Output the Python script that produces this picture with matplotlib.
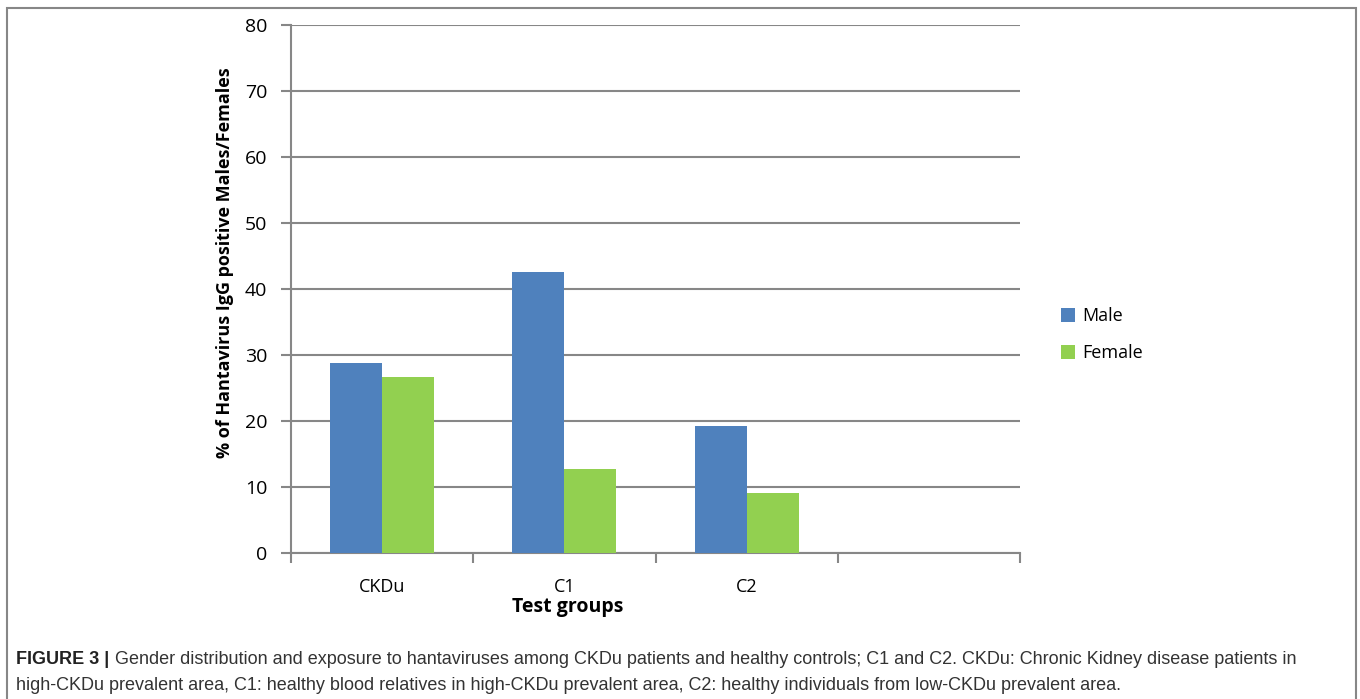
import matplotlib
matplotlib.use('Agg')
from matplotlib import pyplot as plt
from matplotlib.patches import Rectangle
import numpy as np

groups = ['CKDu', 'C1', 'C2', '']
male = [28.8, 42.6, 19.2]
female = [26.7, 12.7, 9.1]

blue = '#4f81bd'
green = '#92d050'
gray = '#878787'

fig = plt.figure(figsize=(13.6, 6.99), dpi=100)
ax = fig.add_axes([0.214, 0.209, 0.536, 0.755])

w = 0.285
x = np.arange(len(male)) + 0.5
ax.bar(x - w / 2, male, w, color=blue, label='Male', zorder=3)
ax.bar(x + w / 2, female, w, color=green, label='Female', zorder=3)

ax.set_xlim(0, len(groups))
ax.set_ylim(0, 80)
ax.set_yticks(range(0, 81, 10))
ax.set_xticks(range(0, len(groups) + 1))
ax.set_xticklabels([])
ax.set_xticks(np.arange(len(groups)) + 0.5, minor=True)
ax.set_xticklabels(groups, minor=True, fontsize=13, family='Open Sans')
ax.tick_params(axis='x', which='minor', length=0, pad=18)
ax.tick_params(axis='x', which='major', length=7, width=1.5, color=gray)
ax.tick_params(axis='y', length=7, width=1.5, color=gray, pad=10, labelsize=14)
for t in ax.get_yticklabels():
    t.set_family('Open Sans')

ax.grid(axis='y', color=gray, lw=1.5, zorder=0)
ax.spines['top'].set_visible(False)
ax.spines['right'].set_visible(False)
ax.spines['left'].set_color(gray)
ax.spines['bottom'].set_color(gray)
ax.spines['left'].set_linewidth(1.5)
ax.spines['bottom'].set_linewidth(1.5)

ax.set_ylabel('% of Hantavirus IgG positive Males/Females', fontsize=13,
              fontweight='bold', family='Open Sans', labelpad=6)
ax.yaxis.set_label_coords(-0.078, 0.549)
ax.set_xlabel('Test groups', fontsize=14, fontweight='bold', family='Open Sans')
ax.xaxis.set_label_coords(0.379, -0.083)

leg = fig.legend(loc='upper left', bbox_to_anchor=(0.768, 0.584), frameon=False,
                 prop={'family': 'Open Sans', 'size': 13}, handlelength=0.8,
                 handleheight=0.8, handletextpad=0.4, labelspacing=1.05)

# figure border
fig.patches.append(Rectangle((7 / 1360, -0.01), 1349 / 1360, 1 - 8 / 699 + 0.01,
                             transform=fig.transFigure, fill=False,
                             edgecolor=gray, lw=1.5))

# caption
y1 = 1 - 659 / 699
y2 = 1 - 686 / 699
head = fig.text(16 / 1360, y1, 'FIGURE 3 |', fontsize=13, fontweight='bold',
                family='Liberation Sans', color='#222222', va='center')
fig.canvas.draw()
bb = head.get_window_extent()
fig.text(bb.x1 / 1360 + 6 / 1360, y1,
         'Gender distribution and exposure to hantaviruses among CKDu patients and '
         'healthy controls; C1 and C2. CKDu: Chronic Kidney disease patients in',
         fontsize=13, family='Liberation Sans', color='#333333', va='center')
fig.text(16 / 1360, y2,
         'high-CKDu prevalent area, C1: healthy blood relatives in high-CKDu prevalent '
         'area, C2: healthy individuals from low-CKDu prevalent area.',
         fontsize=13, family='Liberation Sans', color='#333333', va='center')

plt.savefig('out.png', dpi=100)
